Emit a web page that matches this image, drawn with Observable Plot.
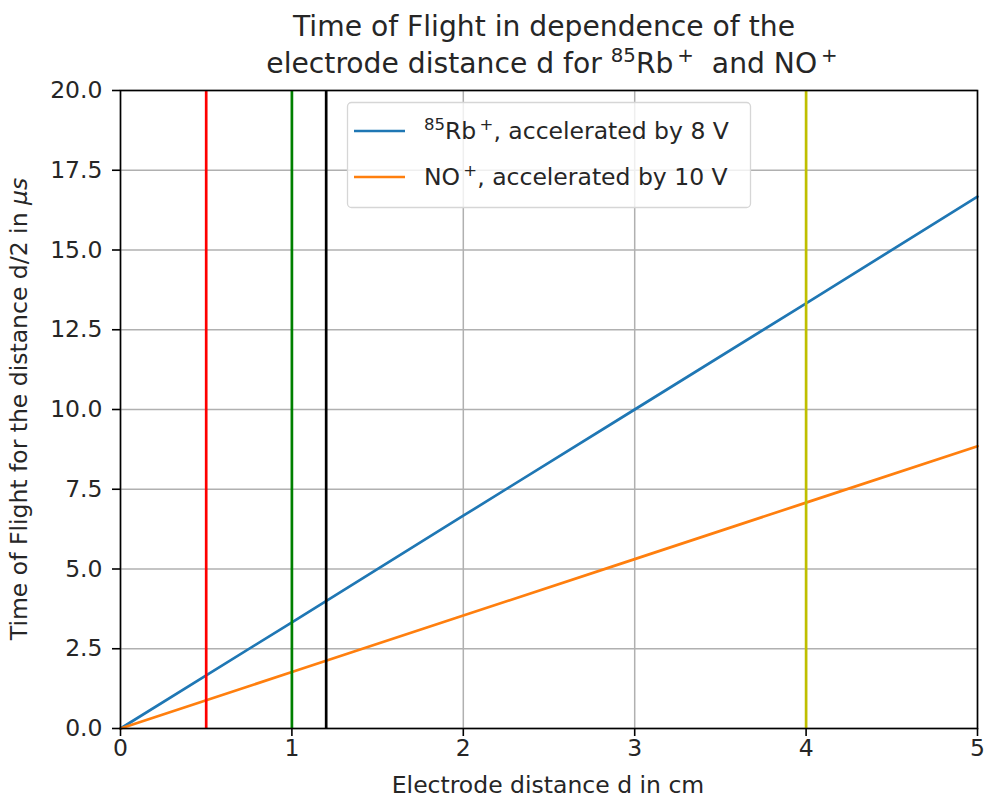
<!DOCTYPE html>
<html>
<head>
<meta charset="utf-8">
<script src="https://cdn.jsdelivr.net/npm/d3@7"></script>
<script src="https://cdn.jsdelivr.net/npm/@observablehq/plot@0.6"></script>
<style>
  html, body { margin: 0; padding: 0; background: #fff; }
  svg { font-family: "DejaVu Sans", sans-serif; }
</style>
</head>
<body>
<div id="chart"></div>
<script>
// Data
const distance = [0, 1, 2, 3, 4, 5];                 // electrode distance d (cm)
const rbTime   = [0, 3.33, 6.67, 10.0, 13.33, 16.67]; // 85Rb+, 8 V (µs)
const noTime   = [0, 1.77, 3.54, 5.31, 7.08, 8.85];   // NO+, 10 V (µs)
const markerD      = [0.5, 1, 1.2, 4];
const markerColors = ["red", "green", "black", "#bfbf00"];
const xTicks = [0, 1, 2, 3, 4, 5];
const yTicks = [0, 2.5, 5, 7.5, 10, 12.5, 15, 17.5, 20];

const rbData = distance.map((d, i) => ({d, t: rbTime[i]}));
const noData = distance.map((d, i) => ({d, t: noTime[i]}));
const markers = markerD.map((d, i) => ({d, c: markerColors[i]}));

const W = 986, H = 801;
const FS = 23.5;      // tick / label font size
const TFS = 28.2;     // title font size
const SUP = 16.5;     // superscript size

const plot = Plot.plot({
  width: W, height: H,
  marginLeft: 120, marginRight: 9, marginTop: 90, marginBottom: 73,
  style: {fontFamily: "DejaVu Sans, sans-serif", fontSize: FS + "px", color: "#000", background: "#fff"},
  x: {domain: [0, 5]},
  y: {domain: [0, 20]},
  marks: [
    Plot.gridX(xTicks, {stroke: "#b0b0b0", strokeOpacity: 1, strokeWidth: 1.5}),
    Plot.gridY(yTicks, {stroke: "#b0b0b0", strokeOpacity: 1, strokeWidth: 1.5}),
    Plot.line(rbData, {x: "d", y: "t", stroke: "#1f77b4", strokeWidth: 2.7}),
    Plot.line(noData, {x: "d", y: "t", stroke: "#ff7f0e", strokeWidth: 2.7}),
    Plot.ruleX(markers, {x: "d", stroke: "c", strokeWidth: 2.7}),
    Plot.frame({stroke: "#000", strokeWidth: 1.6}),
    Plot.axisX(xTicks, {tickSize: 8, tickPadding: 3, tickFormat: d => String(d), label: null, fontSize: FS, strokeWidth: 1.6, fill: "#262626"}),
    Plot.axisY(yTicks, {tickSize: 8, tickPadding: 10, tickFormat: d => d.toFixed(1), label: null, fontSize: FS, strokeWidth: 1.6, fill: "#262626"})
  ]
});
document.getElementById("chart").appendChild(plot);

const svg = d3.select(plot);
const fam = "DejaVu Sans, sans-serif";
const ink = "#262626";

// Title (two lines)
const title = svg.append("g").attr("font-family", fam).attr("font-size", TFS).attr("fill", ink).attr("text-anchor", "middle");
title.append("text").attr("x", 544).attr("y", 36).text("Time of Flight in dependence of the");
const t2 = title.append("text").attr("x", 552).attr("y", 73);
t2.append("tspan").text("electrode distance d for ");
t2.append("tspan").attr("font-size", SUP * 1.2).attr("dy", -11).text("85");
t2.append("tspan").attr("dy", 11).text("Rb");
t2.append("tspan").attr("font-size", SUP * 1.2).attr("dy", -11).text("\u2009+");
t2.append("tspan").attr("dy", 11).text("  and NO");
t2.append("tspan").attr("font-size", SUP * 1.2).attr("dy", -11).text("\u2009+");

// Axis labels
svg.append("text").attr("x", 548).attr("y", 793).attr("text-anchor", "middle").attr("fill", ink)
  .attr("font-family", fam).attr("font-size", FS).text("Electrode distance d in cm");
const yl = svg.append("text").attr("transform", "translate(27,409) rotate(-90)").attr("text-anchor", "middle")
  .attr("font-family", fam).attr("font-size", FS).attr("fill", ink);
yl.append("tspan").text("Time of Flight for the distance d/2 in ");
yl.append("tspan").attr("font-style", "italic").text("\u03bcs");

// Legend
const lg = svg.append("g").attr("font-family", fam).attr("font-size", FS).attr("fill", ink).attr("text-anchor", "start");
lg.append("rect").attr("x", 347.5).attr("y", 102.5).attr("width", 403).attr("height", 105).attr("rx", 4)
  .attr("fill", "#fff").attr("fill-opacity", 0.8).attr("stroke", "#d6d6d6").attr("stroke-width", 1.3);
lg.append("line").attr("x1", 354).attr("x2", 405).attr("y1", 131).attr("y2", 131).attr("stroke", "#1f77b4").attr("stroke-width", 2.7);
lg.append("line").attr("x1", 354).attr("x2", 405).attr("y1", 177).attr("y2", 177).attr("stroke", "#ff7f0e").attr("stroke-width", 2.7);
const l1 = lg.append("text").attr("x", 424).attr("y", 139);
l1.append("tspan").attr("font-size", SUP).attr("dy", -9).text("85");
l1.append("tspan").attr("dy", 9).text("Rb");
l1.append("tspan").attr("font-size", SUP).attr("dy", -9).text("\u2009+");
l1.append("tspan").attr("dy", 9).text(", accelerated by 8 V");
const l2 = lg.append("text").attr("x", 424).attr("y", 185);
l2.append("tspan").text("NO");
l2.append("tspan").attr("font-size", SUP).attr("dy", -9).text("\u2009+");
l2.append("tspan").attr("dy", 9).text(", accelerated by 10 V");
</script>
</body>
</html>
